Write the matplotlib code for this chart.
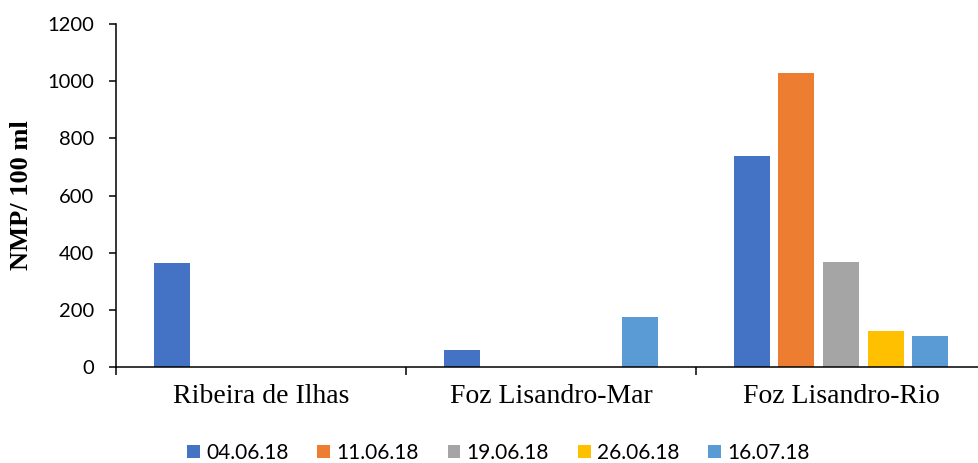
import matplotlib

matplotlib.use("Agg")
import matplotlib.pyplot as plt
import numpy as np

sites = ["Ribeira de Ilhas", "Foz Lisandro-Mar", "Foz Lisandro-Rio"]
dates = ["04.06.18", "11.06.18", "19.06.18", "26.06.18", "16.07.18"]
colors = ["#4472C4", "#ED7D31", "#A5A5A5", "#FFC000", "#5B9BD5"]

# NMP / 100 ml per site, one list per sampling date
nmp_0406 = [365, 60, 740]
nmp_1106 = [0, 0, 1030]
nmp_1906 = [0, 0, 368]
nmp_2606 = [0, 0, 127]
nmp_1607 = [0, 175, 110]
series = [nmp_0406, nmp_1106, nmp_1906, nmp_2606, nmp_1607]

y_ticks = [0, 200, 400, 600, 800, 1000, 1200]

fig = plt.figure(figsize=(9.79, 4.63), dpi=100)
ax = fig.add_axes([0.1185, 0.2073, 0.8887, 0.7408])

x = np.arange(len(sites))
slot = 0.1541
width = 0.124
for i, (vals, label, color) in enumerate(zip(series, dates, colors)):
    ax.bar(x + (i - 2) * slot, vals, width=width, color=color, label=label)

ax.set_xlim(-0.5, len(sites) - 0.5)
ax.set_ylim(0, 1200)
ax.set_yticks(y_ticks)
ax.set_yticklabels([str(t) for t in y_ticks], fontfamily="Lato", fontsize=14.5)

# category boundaries as major ticks, names on minor ticks
ax.set_xticks(np.arange(-0.5, len(sites), 1.0))
ax.set_xticklabels([])
ax.set_xticks(x, minor=True)
ax.set_xticklabels(sites, minor=True, fontfamily="Liberation Serif", fontsize=20)
ax.tick_params(axis="x", which="major", direction="out", length=6, width=1.1)
ax.tick_params(axis="x", which="minor", length=0, pad=12)
ax.tick_params(axis="y", direction="out", length=5, width=1.1, pad=11)

for side in ["top", "right"]:
    ax.spines[side].set_visible(False)
for side in ["left", "bottom"]:
    ax.spines[side].set_linewidth(1.1)
    ax.spines[side].set_color("black")

fig.text(22 / 979, 1 - 195 / 463, "NMP/ 100 ml", rotation=90, ha="center", va="center",
         fontfamily="Liberation Serif", fontweight="bold", fontsize=19)

fig.legend(loc="center", bbox_to_anchor=(0.509, 0.022), ncol=5, frameon=False,
           prop={"family": "Lato", "size": 15}, handlelength=0.6, handleheight=0.6,
           handletextpad=0.3, columnspacing=1.4)

fig.savefig("out.png", dpi=100)
plt.close(fig)
